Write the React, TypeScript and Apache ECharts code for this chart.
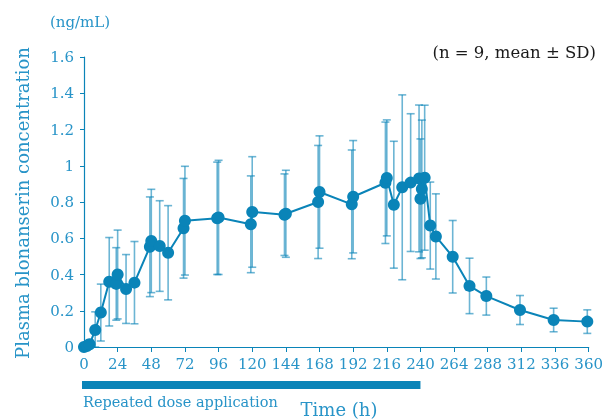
import React, { useEffect, useRef } from "react";
import * as echarts from "echarts";

// Sampling times (h), mean plasma concentration (ng/mL) and SD
const times = [0, 2, 4, 8, 12, 18, 23, 24, 30, 36, 47, 48, 54, 60, 71, 72, 95, 96, 119, 120, 143, 144, 167, 168, 191, 192, 215, 216, 221, 227, 233, 239, 240, 241, 243, 247, 251, 263, 275, 287, 311, 335, 359];
const means = [0, 0.005, 0.015, 0.094, 0.19, 0.36, 0.348, 0.4, 0.32, 0.355, 0.553, 0.585, 0.557, 0.52, 0.655, 0.697, 0.71, 0.715, 0.677, 0.745, 0.73, 0.735, 0.8, 0.855, 0.787, 0.829, 0.906, 0.933, 0.785, 0.881, 0.907, 0.93, 0.818, 0.872, 0.934, 0.67, 0.61, 0.498, 0.337, 0.281, 0.204, 0.149, 0.14];
const sds = [0, 0.01, 0.025, 0.1, 0.157, 0.244, 0.2, 0.245, 0.19, 0.227, 0.275, 0.285, 0.25, 0.26, 0.275, 0.3, 0.31, 0.315, 0.267, 0.305, 0.225, 0.24, 0.312, 0.31, 0.3, 0.31, 0.335, 0.32, 0.35, 0.51, 0.38, 0.405, 0.33, 0.38, 0.4, 0.24, 0.235, 0.2, 0.153, 0.105, 0.08, 0.065, 0.065];

const xTicks = { min: 0, max: 360, interval: 24 };
const yTicks = { min: 0, max: 1.6, interval: 0.2 };
const doseStart = 0;
const doseEnd = 240;

const BLUE = "#0a84b8";
const TEXT_BLUE = "#2894c8";
const FONT = "DejaVu Serif";

export default function App() {
  const ref = useRef<HTMLDivElement>(null);

  useEffect(() => {
    if (!ref.current) return;
    const chart = echarts.init(ref.current, null, { renderer: "svg" });

    const lineData = times.map((t, i) => [t, means[i]]);
    const errData = times
      .map((t, i) => [t, Math.max(0, means[i] - sds[i]), means[i] + sds[i]])
      .filter((d, i) => sds[i] > 0);

    chart.setOption({
      animation: false,
      grid: { left: 84, top: 57, width: 509, height: 290, containLabel: false },
      xAxis: {
        type: "value",
        min: xTicks.min,
        max: xTicks.max,
        interval: xTicks.interval,
        splitLine: { show: false },
        axisLine: { lineStyle: { color: BLUE, width: 1.2 } },
        axisTick: { length: 5, lineStyle: { color: BLUE } },
        axisLabel: { color: TEXT_BLUE, fontFamily: FONT, fontSize: 15, margin: 9 },
      },
      yAxis: {
        type: "value",
        min: yTicks.min,
        max: yTicks.max,
        interval: yTicks.interval,
        splitLine: { show: false },
        axisLine: { show: true, lineStyle: { color: BLUE, width: 1.2 } },
        axisTick: { show: true, length: 4, lineStyle: { color: BLUE } },
        axisLabel: { color: TEXT_BLUE, fontFamily: FONT, fontSize: 15, margin: 10 },
      },
      series: [
        {
          type: "custom",
          data: errData,
          z: 1,
          renderItem: (params: any, api: any) => {
            const t = api.value(0);
            const lo = api.coord([t, api.value(1)]);
            const hi = api.coord([t, api.value(2)]);
            const cap = 4;
            const style = { stroke: "rgba(10,132,184,0.6)", lineWidth: 1.6 };
            return {
              type: "group",
              children: [
                { type: "line", shape: { x1: hi[0], y1: hi[1], x2: lo[0], y2: lo[1] }, style },
                { type: "line", shape: { x1: hi[0] - cap, y1: hi[1], x2: hi[0] + cap, y2: hi[1] }, style },
                { type: "line", shape: { x1: lo[0] - cap, y1: lo[1], x2: lo[0] + cap, y2: lo[1] }, style },
              ],
            };
          },
        },
        {
          type: "line",
          data: lineData,
          z: 3,
          symbol: "circle",
          symbolSize: 12,
          itemStyle: { color: BLUE },
          lineStyle: { color: BLUE, width: 2 },
        },
      ],
    });

    const xa = chart.convertToPixel({ xAxisIndex: 0 }, doseStart) as number;
    const xb = chart.convertToPixel({ xAxisIndex: 0 }, doseEnd) as number;

    chart.setOption({
      graphic: [
        { type: "rect", shape: { x: xa - 2, y: 381, width: xb - xa + 2, height: 8 }, style: { fill: BLUE } },
        {
          type: "text", x: xa - 1, y: 402,
          style: { text: "Repeated dose application", fill: TEXT_BLUE, font: `14.5px '${FONT}'`, textVerticalAlign: "middle" },
        },
        {
          type: "text", x: 339, y: 409,
          style: { text: "Time (h)", fill: TEXT_BLUE, font: `18px '${FONT}'`, textAlign: "center", textVerticalAlign: "middle" },
        },
        {
          type: "text", x: 80, y: 22,
          style: { text: "(ng/mL)", fill: TEXT_BLUE, font: `15px '${FONT}'`, textAlign: "center", textVerticalAlign: "middle" },
        },
        {
          type: "text", x: 596, y: 52,
          style: { text: "(n = 9, mean ± SD)", fill: "#1a1a1a", font: `16.5px '${FONT}'`, textAlign: "right", textVerticalAlign: "middle" },
        },
        {
          type: "text", x: 22, y: 203, rotation: Math.PI / 2,
          style: { text: "Plasma blonanserin concentration", fill: TEXT_BLUE, font: `18px '${FONT}'`, textAlign: "center", textVerticalAlign: "middle" },
        },
      ],
    });

    return () => chart.dispose();
  }, []);

  return <div ref={ref} style={{ position: "fixed", left: 0, top: 0, width: 606, height: 420 }} />;
}
